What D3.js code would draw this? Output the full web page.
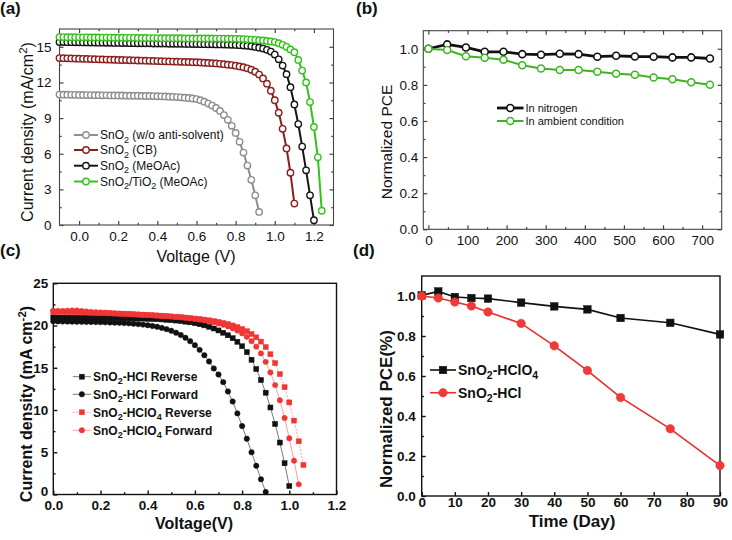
<!DOCTYPE html>
<html><head><meta charset="utf-8">
<script src="https://cdn.jsdelivr.net/npm/d3@7"></script>
<style>body{margin:0;background:#fff}</style>
</head><body><svg id="c" width="732" height="540"></svg>
<script>
// ---------- Panel (a): J-V curves ----------
const aVoltage = [-0.10,-0.08,-0.06,-0.04,-0.02,0.00,0.02,0.04,0.06,0.08,0.10,0.12,0.14,0.16,0.18,0.20,0.22,0.24,0.26,0.28,0.30,0.32,0.34,0.36,0.38,0.40,0.42,0.44,0.46,0.48,0.50,0.52,0.54,0.56,0.58,0.60,0.62,0.64,0.66,0.68,0.70,0.72,0.74,0.76,0.78,0.80,0.82,0.84,0.86,0.88,0.90,0.92,0.94,0.96,0.98,1.00,1.02,1.04,1.06,1.08,1.10,1.12,1.14,1.16,1.18,1.20,1.22,1.24];
const aGrey = [10.98,10.97,10.97,10.96,10.96,10.95,10.95,10.94,10.94,10.93,10.93,10.92,10.92,10.91,10.91,10.90,10.90,10.89,10.89,10.88,10.88,10.87,10.86,10.86,10.85,10.84,10.83,10.82,10.80,10.79,10.77,
  10.75,10.72,10.69,10.65,10.60,10.50,10.38,10.22,10.05,9.85,9.60,9.25,8.85,8.35,7.75,7.00,6.10,5.00,3.80,2.50,1.10];
const aRed = [14.05,14.04,14.03,14.02,14.01,14.00,13.99,13.98,13.97,13.96,13.95,13.94,13.93,13.92,13.91,13.90,13.89,13.88,13.87,13.86,13.85,13.84,13.83,13.82,13.81,13.80,13.79,13.78,13.77,13.76,13.75,
  13.74,13.73,13.72,13.71,13.70,13.68,13.66,13.64,13.62,13.60,13.57,13.54,13.50,13.46,13.41,13.35,13.28,13.19,13.07,12.90,12.66,12.34,11.90,11.30,10.50,9.45,8.10,6.45,4.40,1.80];
const aBlack = [15.40,15.40,15.39,15.39,15.38,15.38,15.37,15.37,15.36,15.36,15.35,15.35,15.34,15.34,15.33,15.33,15.32,15.32,15.31,15.31,15.30,15.30,15.29,15.29,15.28,15.28,15.27,15.27,15.26,15.26,15.25,15.25,15.24,15.24,15.23,15.23,15.22,15.22,15.21,15.21,15.20,15.20,15.19,15.18,15.17,15.16,
  15.14,15.11,15.08,15.04,14.99,14.93,14.85,14.75,14.60,14.35,13.95,13.42,12.70,11.60,10.15,8.50,6.60,4.60,2.50,0.40];
const aGreen = [15.82,15.82,15.81,15.81,15.81,15.80,15.80,15.80,15.79,15.79,15.79,15.78,15.78,15.78,15.77,15.77,15.77,15.76,15.76,15.76,15.75,15.75,15.75,15.74,15.74,15.74,15.73,15.73,15.73,15.72,15.72,15.72,15.71,15.71,15.71,15.71,15.70,15.70,15.70,15.70,15.69,15.69,15.69,15.68,15.68,15.67,
  15.66,15.65,15.63,15.61,15.59,15.56,15.53,15.49,15.45,15.40,15.30,15.17,15.00,14.78,14.55,13.90,13.00,12.00,10.35,8.25,5.70,1.20];
const aNames = ["SnO_{2} (w/o anti-solvent)","SnO_{2} (CB)","SnO_{2} (MeOAc)","SnO_{2}/TiO_{2} (MeOAc)"];
const aXTicks = [0,0.2,0.4,0.6,0.8,1.0,1.2];
const aYTicks = [0,3,6,9,12,15];

// ---------- Panel (b): stability ----------
const bHours = [0,48,96,144,192,240,288,336,384,432,480,528,576,624,672,720];
const bNitrogen = [1.0,1.024,1.007,0.983,0.983,0.970,0.967,0.972,0.970,0.956,0.961,0.957,0.956,0.952,0.952,0.946];
const bAmbient = [1.0,0.993,0.959,0.950,0.939,0.909,0.891,0.882,0.882,0.872,0.861,0.856,0.841,0.831,0.815,0.800];
const bNames = ["In nitrogen","In ambient condition"];
const bXTicks = [0,100,200,300,400,500,600,700];
const bYTicks = [0,0.2,0.4,0.6,0.8,1.0];

// ---------- Panel (c): J-V hysteresis ----------
const cVoltage = [0.00,0.02,0.04,0.06,0.08,0.10,0.12,0.14,0.16,0.18,0.20,0.22,0.24,0.26,0.28,0.30,0.32,0.34,0.36,0.38,0.40,0.42,0.44,0.46,0.48,0.50,0.52,0.54,0.56,0.58,0.60,0.62,0.64,0.66,0.68,0.70,0.72,0.74,0.76,0.78,0.80,0.82,0.84,0.86,0.88,0.90,0.92,0.94,0.96,0.98,1.00,1.02,1.04,1.06,1.08];
const cHClRev = [20.95,20.95,20.94,20.94,20.93,20.93,20.92,20.92,20.91,20.91,20.90,20.90,20.89,20.88,20.87,20.86,20.85,20.84,20.83,20.82,20.80,
  20.78,20.75,20.72,20.68,20.64,20.59,20.53,20.46,20.38,20.28,20.16,20.02,19.85,19.65,19.42,19.15,18.85,18.50,18.08,17.55,16.85,15.95,14.85,13.55,12.05,10.30,8.35,6.15,3.70,1.00];
const cHClFwd = [20.50,20.49,20.48,20.47,20.46,20.45,20.44,20.43,20.42,20.41,20.40,20.38,20.36,20.34,20.32,20.30,20.26,20.22,20.17,20.11,20.04,
  19.95,19.85,19.72,19.57,19.38,19.15,18.88,18.55,18.15,17.68,17.12,16.48,15.75,14.92,14.20,13.30,12.20,11.00,9.60,8.10,6.60,5.00,3.40,1.80,0.30];
const cHClO4Rev = [21.60,21.60,21.59,21.59,21.58,21.57,21.56,21.54,21.52,21.50,21.48,21.46,21.44,21.42,21.40,21.38,21.36,21.33,21.30,21.27,21.24,
  21.21,21.18,21.15,21.11,21.07,21.03,20.99,20.94,20.89,20.83,20.77,20.70,20.62,20.53,20.43,20.31,20.17,20.01,19.82,19.60,19.33,19.00,18.60,18.10,17.45,16.60,15.55,14.25,12.70,10.90,8.75,6.30,3.50];
const cHClO4Fwd = [21.75,21.74,21.73,21.75,21.78,21.78,21.72,21.66,21.62,21.58,21.55,21.52,21.49,21.46,21.43,21.40,21.37,21.34,21.31,21.28,21.25,
  21.22,21.19,21.15,21.11,21.07,21.02,20.97,20.91,20.85,20.78,20.70,20.61,20.51,20.39,20.25,20.09,19.90,19.67,19.40,19.07,18.66,18.15,17.50,16.70,15.70,14.45,12.95,11.15,9.05,6.65,4.00,1.20];
const cNames = ["SnO_{2}-HCl Reverse","SnO_{2}-HCl Forward","SnO_{2}-HClO_{4} Reverse","SnO_{2}-HClO_{4} Forward"];
const cXTicks = [0,0.2,0.4,0.6,0.8,1.0,1.2];
const cYTicks = [0,5,10,15,20,25];

// ---------- Panel (d): long-term stability ----------
const dDays = [0,5,10,15,20,30,40,50,60,75,90];
const dHClO4 = [1.003,1.023,0.995,0.990,0.987,0.967,0.948,0.933,0.890,0.866,0.808];
const dHCl = [1.0,0.990,0.970,0.950,0.920,0.863,0.751,0.627,0.493,0.336,0.152];
const dNames = ["SnO_{2}-HClO_{4}","SnO_{2}-HCl"];
const dXTicks = [0,10,20,30,40,50,60,70,80,90];
const dYTicks = [0,0.2,0.4,0.6,0.8,1.0];

// ================= drawing =================
const FONT = "'Liberation Sans', Arial, Helvetica, sans-serif";
const svg = d3.select("#c").attr("font-family", FONT);

function rich(t, str, fs) {
  const parts = str.split(/(_\{[^}]*\}|\^\{[^}]*\})/).filter(s => s.length);
  let cur = 0;
  parts.forEach(p => {
    let off = 0, txt = p, size = fs;
    if (p[0] === "_") { off = fs * 0.28; txt = p.slice(2, -1); size = fs * 0.75; }
    else if (p[0] === "^") { off = -fs * 0.4; txt = p.slice(2, -1); size = fs * 0.72; }
    t.append("tspan").attr("dy", off - cur).attr("font-size", size).text(txt);
    cur = off;
  });
  return t;
}

function panel(p) {
  const x = d3.scaleLinear().domain(p.xDomain).range([p.left, p.right]);
  const y = d3.scaleLinear().domain(p.yDomain).range([p.bottom, p.top]);
  const g = svg.append("g");
  const fw = p.bold ? "bold" : "normal";
  function styleAxis(a, showText) {
    a.select(".domain").remove();
    a.selectAll("line").attr("stroke", p.frame).attr("stroke-width", p.tickW);
    a.selectAll("text").attr("font-size", p.fs).attr("font-weight", fw)
      .attr("font-family", FONT).attr("fill", "#111");
    if (!showText) a.selectAll("text").remove();
    return a;
  }
  const inside = (v, d) => v > Math.min(d[0], d[1]) + 1e-9 && v < Math.max(d[0], d[1]) - 1e-9;
  const xMinor = p.xMinor.filter(v => inside(v, p.xDomain));
  const yMinor = p.yMinor.filter(v => inside(v, p.yDomain));
  styleAxis(g.append("g").attr("transform", `translate(0,${p.bottom})`)
    .call(d3.axisBottom(x).tickValues(p.xTicks).tickFormat(p.xFmt).tickSizeInner(-p.tick).tickSizeOuter(0).tickPadding(p.xPad)), true);
  styleAxis(g.append("g").attr("transform", `translate(0,${p.bottom})`)
    .call(d3.axisBottom(x).tickValues(xMinor).tickFormat("").tickSizeInner(-p.tick * 0.55).tickSizeOuter(0)), false);
  const yAx = styleAxis(g.append("g").attr("transform", `translate(${p.left},0)`)
    .call(d3.axisLeft(y).tickValues(p.yTicks).tickFormat(p.yFmt).tickSizeInner(-p.tick).tickSizeOuter(0).tickPadding(p.yPad)), true);
  if (p.zeroLift) yAx.selectAll(".tick").filter(d => d === 0).select("text").attr("y", -p.zeroLift);
  styleAxis(g.append("g").attr("transform", `translate(${p.left},0)`)
    .call(d3.axisLeft(y).tickValues(yMinor).tickFormat("").tickSizeInner(-p.tick * 0.55).tickSizeOuter(0)), false);
  if (p.mirror) {
    styleAxis(g.append("g").attr("transform", `translate(0,${p.top})`)
      .call(d3.axisTop(x).tickValues(p.xTicks).tickFormat("").tickSizeInner(-p.tick).tickSizeOuter(0)), false);
    styleAxis(g.append("g").attr("transform", `translate(0,${p.top})`)
      .call(d3.axisTop(x).tickValues(xMinor).tickFormat("").tickSizeInner(-p.tick * 0.55).tickSizeOuter(0)), false);
    styleAxis(g.append("g").attr("transform", `translate(${p.right},0)`)
      .call(d3.axisRight(y).tickValues(p.yTicks).tickFormat("").tickSizeInner(-p.tick).tickSizeOuter(0)), false);
    styleAxis(g.append("g").attr("transform", `translate(${p.right},0)`)
      .call(d3.axisRight(y).tickValues(yMinor).tickFormat("").tickSizeInner(-p.tick * 0.55).tickSizeOuter(0)), false);
  }
  g.append("rect").attr("x", p.left).attr("y", p.top).attr("width", p.right - p.left).attr("height", p.bottom - p.top)
    .attr("fill", "none").attr("stroke", p.frame).attr("stroke-width", p.frameW);
  if (p.xTitle) {
    const xt = g.append("text").attr("x", p.xTitlePos[0]).attr("y", p.xTitlePos[1]).attr("text-anchor", "middle")
      .attr("font-size", p.titleFs).attr("font-weight", fw).attr("fill", "#111");
    rich(xt, p.xTitle, p.titleFs);
  }
  const yt = g.append("text").attr("transform", `translate(${p.yTitlePos[0]},${p.yTitlePos[1]}) rotate(-90)`)
    .attr("text-anchor", "middle").attr("font-size", p.titleFs).attr("font-weight", fw).attr("fill", "#111");
  rich(yt, p.yTitle, p.titleFs);
  return { g, x, y };
}

function marker(g, shape, cx, cy, size, stroke, fill, sw) {
  if (shape === "square") {
    return g.append("rect").attr("x", cx - size / 2).attr("y", cy - size / 2).attr("width", size).attr("height", size)
      .attr("fill", fill).attr("stroke", stroke).attr("stroke-width", sw);
  }
  return g.append("circle").attr("cx", cx).attr("cy", cy).attr("r", size / 2)
    .attr("fill", fill).attr("stroke", stroke).attr("stroke-width", sw);
}

function series(P, xs, ys, o) {
  const pts = ys.map((v, i) => [xs[i], v]);
  P.g.append("path").datum(pts)
    .attr("d", d3.line().x(d => P.x(d[0])).y(d => P.y(d[1])))
    .attr("fill", "none").attr("stroke", o.line).attr("stroke-width", o.lw)
    .attr("stroke-dasharray", o.dash || null);
  const mg = P.g.append("g");
  pts.forEach(d => marker(mg, o.shape, P.x(d[0]), P.y(d[1]), o.size, o.stroke, o.fill, o.sw));
}

function legendRow(g, o, x0, x1, y, label, fs, bold) {
  g.append("line").attr("x1", x0).attr("x2", x1).attr("y1", y).attr("y2", y)
    .attr("stroke", o.line).attr("stroke-width", o.lw).attr("stroke-dasharray", o.dash || null);
  marker(g, o.shape, (x0 + x1) / 2, y, o.size, o.stroke, o.fill, o.sw);
  const t = g.append("text").attr("x", x1 + 2).attr("y", y + fs * 0.35).attr("font-size", fs)
    .attr("font-weight", bold ? "bold" : "normal").attr("fill", "#111");
  rich(t, label, fs);
}

const fmt1 = d3.format(".1f"), fmt0 = d3.format("d");

// ----- (a) -----
const A = panel({
  left: 59.5, right: 333.5, top: 29, bottom: 225,
  xDomain: [-0.1, 1.3], yDomain: [0, 16.5],
  xTicks: aXTicks, yTicks: aYTicks,
  xMinor: [-0.1, 0.1, 0.3, 0.5, 0.7, 0.9, 1.1, 1.3], yMinor: [1.5, 4.5, 7.5, 10.5, 13.5, 16.5],
  xFmt: fmt1, yFmt: fmt0, fs: 13.5, xPad: 6, yPad: 8, tick: 4, tickW: 1.2,
  frame: "#444", frameW: 1.1, mirror: true, bold: false,
  xTitle: "Voltage (V)", xTitlePos: [196, 262], yTitle: "Current density (mA/cm^{2})", yTitlePos: [33, 132], titleFs: 16
});
const aStyles = [
  { line: "#8e8e8e", stroke: "#8e8e8e" },
  { line: "#8b1d1d", stroke: "#8b1d1d" },
  { line: "#151515", stroke: "#151515" },
  { line: "#33c21c", stroke: "#33c21c" }
].map(s => Object.assign(s, { lw: 2, shape: "circle", size: 6.4, fill: "#fff", sw: 1.4 }));
[aGrey, aRed, aBlack, aGreen].forEach((vals, i) => series(A, aVoltage, vals, aStyles[i]));
[135, 150, 165.7, 181.5].forEach((yy, i) => legendRow(A.g, aStyles[i], 74, 98, yy, aNames[i], 12, false));

// ----- (b) -----
const B = panel({
  left: 423.3, right: 721.7, top: 30.7, bottom: 229.3,
  xDomain: [-13, 750], yDomain: [0, 1.1],
  xTicks: bXTicks, yTicks: bYTicks,
  xMinor: [50, 150, 250, 350, 450, 550, 650], yMinor: [0.1, 0.3, 0.5, 0.7, 0.9, 1.1],
  xFmt: fmt0, yFmt: fmt1, fs: 13.5, xPad: 6, yPad: 5, tick: 4, tickW: 1.2,
  frame: "#444", frameW: 1.1, mirror: true, bold: false,
  xTitle: "", xTitlePos: [570, 262], yTitle: "Normalized PCE", yTitlePos: [392, 142], titleFs: 15.5
});
const bStyles = [
  { line: "#111", stroke: "#111", lw: 2.8, sw: 1.6 },
  { line: "#3cb521", stroke: "#3cb521", lw: 2, sw: 1.5 }
].map(s => Object.assign(s, { shape: "circle", size: 7, fill: "#fff" }));
series(B, bHours, bNitrogen, bStyles[0]);
series(B, bHours, bAmbient, bStyles[1]);
[108, 121].forEach((yy, i) => legendRow(B.g, bStyles[i], 497, 523.5, yy, bNames[i], 11, false));

// ----- (c) -----
const C = panel({
  left: 53.3, right: 336.5, top: 283.3, bottom: 494.5,
  xDomain: [0, 1.2], yDomain: [0, 25],
  xTicks: cXTicks, yTicks: cYTicks,
  xMinor: [0.1, 0.3, 0.5, 0.7, 0.9, 1.1], yMinor: [2.5, 7.5, 12.5, 17.5, 22.5],
  xFmt: fmt1, yFmt: fmt0, fs: 13.5, xPad: 5.5, yPad: 5, tick: 4, tickW: 1.4, zeroLift: 3,
  frame: "#111", frameW: 1.4, mirror: false, bold: true,
  xTitle: "Voltage(V)", xTitlePos: [194, 529], yTitle: "Current density (mA cm^{-2})", yTitlePos: [32, 404], titleFs: 16
});
const cStyles = [
  { line: "#7a7a7a", stroke: "#111", fill: "#111", shape: "square", size: 5, lw: 1 },
  { line: "#7a7a7a", stroke: "#111", fill: "#111", shape: "circle", size: 5.4, lw: 1 },
  { line: "#f5a0a8", stroke: "#f03535", fill: "#f03535", shape: "square", size: 5, lw: 1, dash: "2,1.5" },
  { line: "#f5a0a8", stroke: "#f03535", fill: "#f03535", shape: "circle", size: 5.4, lw: 1 }
].map(s => Object.assign(s, { sw: 0.5 }));
[cHClRev, cHClFwd, cHClO4Rev, cHClO4Fwd].forEach((vals, i) => series(C, cVoltage, vals, cStyles[i]));
[376.7, 394.3, 412.3, 430.3].forEach((yy, i) => legendRow(C.g, cStyles[i], 72.7, 91, yy, cNames[i], 12, true));

// ----- (d) -----
const D = panel({
  left: 421.7, right: 720, top: 276, bottom: 496,
  xDomain: [0, 90], yDomain: [0, 1.1],
  xTicks: dXTicks, yTicks: dYTicks,
  xMinor: [], yMinor: [0.1, 0.3, 0.5, 0.7, 0.9],
  xFmt: fmt0, yFmt: fmt1, fs: 13.5, xPad: 1, yPad: 6, tick: 4, tickW: 1.4,
  frame: "#111", frameW: 1.4, mirror: false, bold: true,
  xTitle: "Time (Day)", xTitlePos: [572, 527], yTitle: "Normalized PCE(%)", yTitlePos: [392, 409], titleFs: 17
});
const dStyles = [
  { line: "#111", stroke: "#111", fill: "#111", shape: "square", size: 7.5, lw: 1.6 },
  { line: "#ee2b2b", stroke: "#ee2b2b", fill: "#f03a3a", shape: "circle", size: 8.5, lw: 1.6 }
].map(s => Object.assign(s, { sw: 0.5 }));
series(D, dDays, dHClO4, dStyles[0]);
series(D, dDays, dHCl, dStyles[1]);
[370, 392.7].forEach((yy, i) => legendRow(D.g, dStyles[i], 430, 456, yy, dNames[i], 14, true));

// panel letters
[["(a)", 0, 14], ["(b)", 356, 14], ["(c)", 0, 256], ["(d)", 353, 256]].forEach(l =>
  svg.append("text").attr("x", l[1]).attr("y", l[2]).attr("font-size", 17).attr("font-weight", "bold")
    .attr("fill", "#111").text(l[0]));
</script>
</body></html>
